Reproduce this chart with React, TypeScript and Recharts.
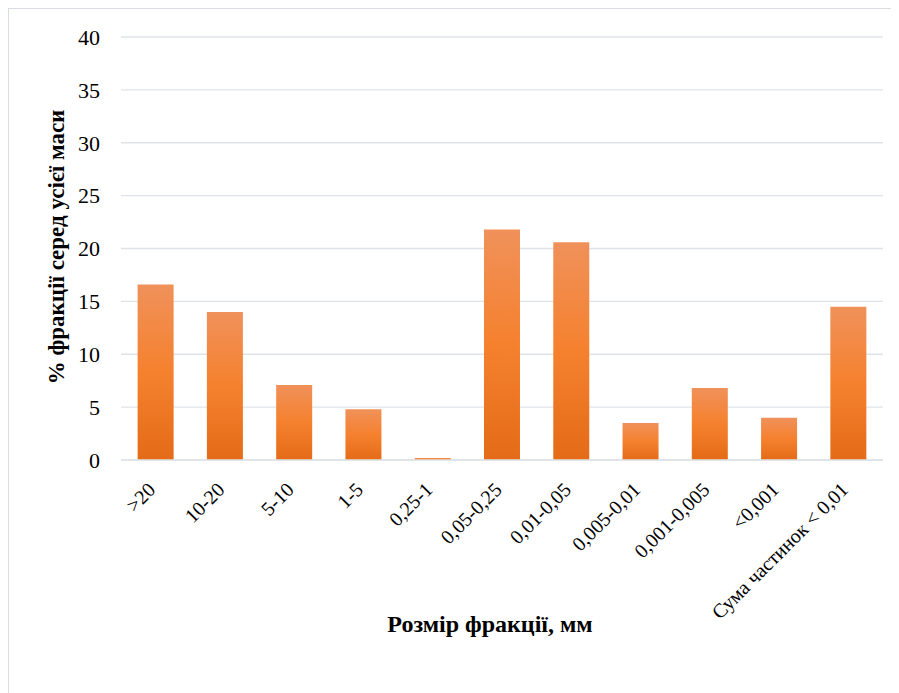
import { BarChart, Bar, XAxis, YAxis, CartesianGrid } from 'recharts';

const categories = [
  '>20',
  '10-20',
  '5-10',
  '1-5',
  '0,25-1',
  '0,05-0,25',
  '0,01-0,05',
  '0,005-0,01',
  '0,001-0,005',
  '<0,001',
  'Сума частинок < 0,01',
];
const fractionPercent = [16.6, 14.0, 7.1, 4.8, 0.2, 21.8, 20.6, 3.5, 6.8, 4.0, 14.5];
const yTicks = [0, 5, 10, 15, 20, 25, 30, 35, 40];
const xTitle = 'Розмір фракції, мм';
const yTitle = '% фракції серед усієї маси';

const data = categories.map((name, i) => ({ name, value: fractionPercent[i] }));

const FONT = '"Liberation Serif", "Times New Roman", serif';
const GRID = '#dfe3e8';

const XTick = (props: any) => {
  const { x, y, payload } = props;
  const tx = x + 1;
  const ty = y + 31;
  return (
    <text
      x={tx}
      y={ty}
      transform={`rotate(-45, ${tx}, ${ty})`}
      textAnchor="end"
      fontFamily={FONT}
      fontSize={20}
      fill="#000"
    >
      {payload.value}
    </text>
  );
};

const App = () => {
  return (
    <div
      style={{
        width: 890,
        height: 684,
        borderLeft: '1px solid #d9dde3',
        borderTop: '1px solid #d9dde3',
        background: '#fff',
      }}
    >
      <BarChart
        width={890}
        height={684}
        data={data}
        margin={{ top: 28, right: 16, left: 52, bottom: 0 }}
        barCategoryGap="24%"
      >
        <defs>
          <linearGradient id="barFill" x1="0" y1="0" x2="0" y2="1">
            <stop offset="0%" stopColor="#f0915a" />
            <stop offset="50%" stopColor="#f5812e" />
            <stop offset="100%" stopColor="#e46b17" />
          </linearGradient>
        </defs>
        <CartesianGrid vertical={false} stroke={GRID} strokeWidth={1.3} />
        <XAxis
          dataKey="name"
          interval={0}
          height={233}
          axisLine={{ stroke: GRID, strokeWidth: 1.3 }}
          tickLine={false}
          tickSize={0}
          tickMargin={0}
          tick={<XTick />}
          label={{
            content: () => (
              <text
                x={481}
                y={623}
                textAnchor="middle"
                fontFamily={FONT}
                fontSize={24}
                fontWeight="bold"
                fill="#000"
              >
                {xTitle}
              </text>
            ),
          }}
        />
        <YAxis
          width={60}
          domain={[0, 40]}
          ticks={yTicks}
          interval={0}
          axisLine={false}
          tickLine={false}
          tickSize={0}
          tickMargin={21}
          tick={{ fontFamily: FONT, fontSize: 22, fill: '#000' }}
          label={{
            content: () => (
              <text
                x={55}
                y={238}
                transform="rotate(-90, 55, 238)"
                textAnchor="middle"
                fontFamily={FONT}
                fontSize={23}
                fontWeight="bold"
                fill="#000"
              >
                {yTitle}
              </text>
            ),
          }}
        />
        <Bar dataKey="value" fill="url(#barFill)" isAnimationActive={false} />
      </BarChart>
    </div>
  );
};

export default App;
